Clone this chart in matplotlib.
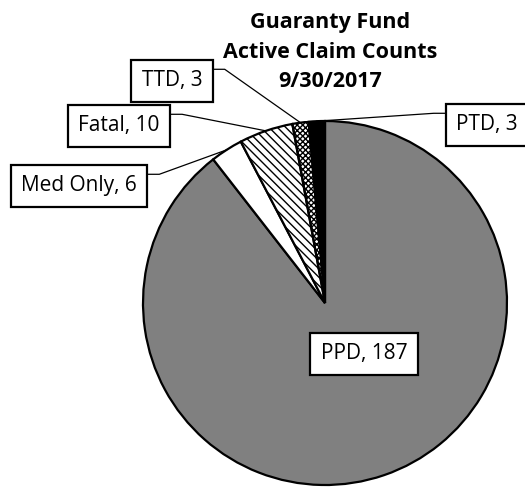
import numpy as np
import matplotlib.pyplot as plt
from matplotlib.patches import Wedge
from matplotlib.lines import Line2D

plt.rcParams['font.family'] = ['Open Sans', 'DejaVu Sans']
plt.rcParams['hatch.linewidth'] = 1.0

# data (clockwise from 12 o'clock)
categories = ['PPD', 'Med Only', 'Fatal', 'TTD', 'PTD']
counts = [187, 6, 10, 3, 3]
colors = ['#808080', 'white', 'white', 'white', 'black']
hatches = ['', '', '\\\\\\\\', 'xxxxxx', '']

# label box centres in pixels (x from left, y from top)
label_pos = {'PPD': (364, 354), 'Med Only': (79, 186), 'Fatal': (119, 126),
             'TTD': (172, 81), 'PTD': (487, 125)}

W, H = 525, 488
fig = plt.figure(figsize=(W / 100, H / 100), dpi=100)
ax = fig.add_axes([143 / W, 3 / H, 364 / W, 364 / H])

wedges, _ = ax.pie(counts, colors=colors, startangle=90, counterclock=False,
                   wedgeprops=dict(edgecolor='black', linewidth=1.6))
for w, h in zip(wedges, hatches):
    if h:
        w.set_hatch(h)
        w.set_linewidth(0)
        ax.add_patch(Wedge(w.center, w.r, w.theta1, w.theta2, fill=False,
                           ec='black', lw=1.6))
ax.set_xlim(-1, 1)
ax.set_ylim(-1, 1)
ax.set_aspect('equal')
ax.axis('off')

box = dict(boxstyle='square,pad=0.5', fc='white', ec='black', lw=1.6)
texts = {}
for cat, n in zip(categories, counts):
    tx, ty = label_pos[cat]
    texts[cat] = fig.text(tx / W, 1 - ty / H, f'{cat}, {n}', ha='center', va='center',
                          fontsize=15, bbox=box, zorder=5)

fig.text(330 / W, 1 - 52 / H, 'Guaranty Fund\nActive Claim Counts\n9/30/2017',
         ha='center', va='center', fontsize=15.5, fontweight='bold', linespacing=1.55)

# leader lines: wedge edge -> short horizontal stub -> box
fig.canvas.draw()
r = fig.canvas.get_renderer()
for w, cat in zip(wedges, categories):
    if cat == 'PPD':
        continue
    mid = np.deg2rad((w.theta1 + w.theta2) / 2)
    px, py = ax.transData.transform((np.cos(mid), np.sin(mid)))
    bb = texts[cat].get_bbox_patch().get_window_extent(r)
    sy = bb.y1 - 0.22 * bb.height
    if bb.x1 < px:
        bx, sx = bb.x1, bb.x1 + 12
    else:
        bx, sx = bb.x0, bb.x0 - 12
    fig.add_artist(Line2D([px, sx, bx], [py, sy, sy], transform=None,
                          color='black', lw=0.9, zorder=4))

fig.savefig('out.png', dpi=100)
